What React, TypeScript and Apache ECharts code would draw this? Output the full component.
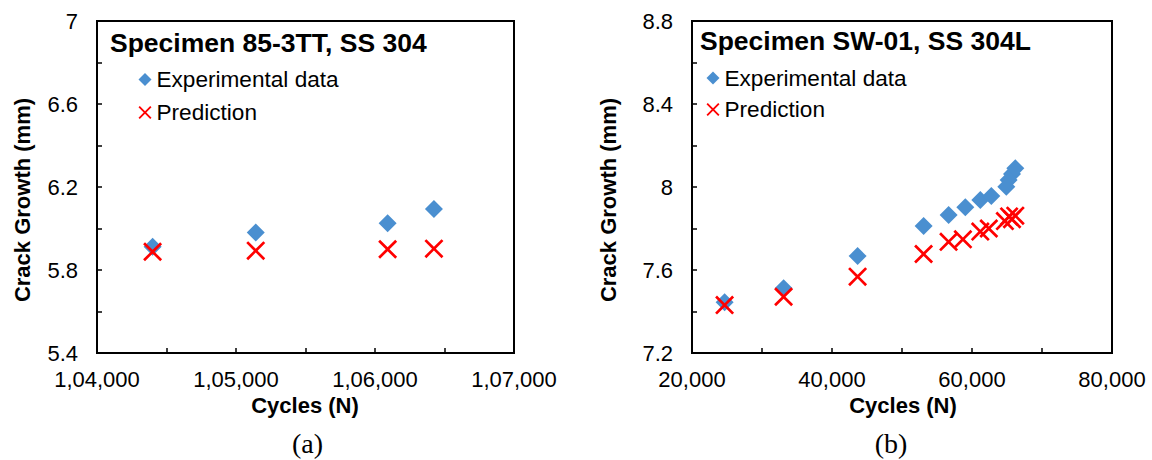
import React, { useEffect, useRef } from "react";
import * as echarts from "echarts";

// ---- Data (a): Specimen 85-3TT, SS 304 ----
const aCycles = [104400, 105142, 106091, 106424];
const aExperimental = [5.912, 5.981, 6.025, 6.094];
const aPrediction = [5.888, 5.893, 5.9, 5.903];
const aXTickLabels = ["1,04,000", "1,05,000", "1,06,000", "1,07,000"];
const aYTickLabels = ["5.4", "5.8", "6.2", "6.6", "7"];

// ---- Data (b): Specimen SW-01, SS 304L ----
const bExpCycles = [24657, 33086, 43657, 53086, 56657, 59043, 61186, 62757, 64900, 65229, 65714, 66186];
const bExperimental = [7.444, 7.512, 7.667, 7.812, 7.865, 7.902, 7.937, 7.957, 8.001, 8.034, 8.063, 8.09];
const bPredCycles = [24657, 33086, 43657, 53086, 56657, 58700, 61186, 62400, 64700, 65300, 65714, 66186];
const bPrediction = [7.431, 7.471, 7.568, 7.677, 7.736, 7.748, 7.785, 7.8, 7.836, 7.858, 7.845, 7.862];
const bXTickLabels = ["20,000", "40,000", "60,000", "80,000"];
const bYTickLabels = ["7.2", "7.6", "8", "8.4", "8.8"];

const titles = ["Specimen 85-3TT, SS 304", "Specimen SW-01, SS 304L"];
const legendNames = ["Experimental data", "Prediction"];
const xTitle = "Cycles (N)";
const yTitle = "Crack Growth (mm)";
const panelLabels = ["(a)", "(b)"];

const BLUE = "#4A8FD0";
const RED = "#FF0000";
const FONT = "'Liberation Sans', Arial, sans-serif";
const SERIF = "'Liberation Serif', 'Times New Roman', serif";
const CROSS = "path://M0,10L10,0L50,40L90,0L100,10L60,50L100,90L90,100L50,60L10,100L0,90L40,50Z";

function xAxisCfg(gridIndex: number, min: number, max: number, interval: number, labels: string[]) {
  return {
    type: "value",
    gridIndex,
    min,
    max,
    interval,
    splitLine: { show: false },
    axisLine: { show: true, lineStyle: { color: "#000", width: 2 } },
    axisTick: { show: true, inside: true, length: 5, lineStyle: { color: "#000", width: 1.5 } },
    minorTick: { show: true, splitNumber: 2, length: 5, lineStyle: { color: "#000", width: 1.5 } },
    axisLabel: {
      color: "#000",
      fontFamily: FONT,
      fontSize: 22,
      margin: 15,
      formatter: (v: number) => labels[Math.round((v - min) / interval)] ?? "",
    },
  };
}

function yAxisCfg(gridIndex: number, min: number, max: number, interval: number, labels: string[]) {
  return {
    type: "value",
    gridIndex,
    min,
    max,
    interval,
    splitLine: { show: false },
    axisLine: { show: true, lineStyle: { color: "#000", width: 2 } },
    axisTick: { show: true, inside: true, length: 5, lineStyle: { color: "#000", width: 1.5 } },
    minorTick: { show: true, splitNumber: 2, length: 5, lineStyle: { color: "#000", width: 1.5 } },
    axisLabel: {
      color: "#000",
      fontFamily: FONT,
      fontSize: 22,
      margin: 19,
      formatter: (v: number) => labels[Math.round((v - min) / interval)] ?? "",
    },
  };
}

function pairs(xs: number[], ys: number[]) {
  return xs.map((x, i) => [x, ys[i]]);
}

export default function App() {
  const ref = useRef<HTMLDivElement>(null);
  useEffect(() => {
    if (!ref.current) return;
    const chart = echarts.init(ref.current, undefined, { renderer: "svg" });
    const legendCfg = (left: number, top: number, gap: number) => ({
      orient: "vertical",
      left,
      top,
      padding: 0,
      itemWidth: 13,
      itemHeight: 13,
      itemGap: gap,
      selectedMode: false,
      textStyle: { fontFamily: FONT, fontSize: 22.6, color: "#000" },
      data: [
        { name: legendNames[0], icon: "diamond", itemStyle: { color: BLUE } },
        { name: legendNames[1], icon: CROSS, itemStyle: { color: RED } },
      ],
    });
    const expSeries = (idx: number, data: number[][]) => ({
      type: "scatter",
      name: legendNames[0],
      xAxisIndex: idx,
      yAxisIndex: idx,
      symbol: "diamond",
      symbolSize: 18,
      itemStyle: { color: BLUE, opacity: 1 },
      data,
      z: 2,
    });
    const predSeries = (idx: number, data: number[][]) => ({
      type: "scatter",
      name: legendNames[1],
      xAxisIndex: idx,
      yAxisIndex: idx,
      symbol: CROSS,
      symbolSize: 19,
      itemStyle: { color: RED, opacity: 1 },
      data,
      z: 3,
    });
    const titleStyle = { fontFamily: FONT, fontSize: 26.5, fontWeight: "bold", color: "#000" };
    chart.setOption({
      animation: false,
      backgroundColor: "#fff",
      title: [
        { text: titles[0], left: 110, top: 29, padding: 0, textStyle: titleStyle },
        { text: titles[1], left: 700, top: 27, padding: 0, textStyle: titleStyle },
      ],
      legend: [legendCfg(138.5, 68, 10), legendCfg(706.5, 66.5, 8.5)],
      grid: [
        { left: 97, top: 21, width: 417, height: 332, show: true, borderColor: "#000", borderWidth: 2 },
        { left: 692, top: 21, width: 420, height: 332, show: true, borderColor: "#000", borderWidth: 2 },
      ],
      xAxis: [
        xAxisCfg(0, 104000, 107000, 1000, aXTickLabels),
        xAxisCfg(1, 20000, 80000, 20000, bXTickLabels),
      ],
      yAxis: [
        yAxisCfg(0, 5.4, 7, 0.4, aYTickLabels),
        yAxisCfg(1, 7.2, 8.8, 0.4, bYTickLabels),
      ],
      series: [
        expSeries(0, pairs(aCycles, aExperimental)),
        predSeries(0, pairs(aCycles, aPrediction)),
        expSeries(1, pairs(bExpCycles, bExperimental)),
        predSeries(1, pairs(bPredCycles, bPrediction)),
      ],
      graphic: [
        { type: "text", x: 22, y: 200, rotation: Math.PI / 2, style: { text: yTitle, font: `bold 22px ${FONT}`, fill: "#000", align: "center", verticalAlign: "middle" } },
        { type: "text", x: 608, y: 200, rotation: Math.PI / 2, style: { text: yTitle, font: `bold 22px ${FONT}`, fill: "#000", align: "center", verticalAlign: "middle" } },
        { type: "text", x: 305, y: 405, style: { text: xTitle, font: `bold 22px ${FONT}`, fill: "#000", align: "center", verticalAlign: "middle" } },
        { type: "text", x: 903, y: 405, style: { text: xTitle, font: `bold 22px ${FONT}`, fill: "#000", align: "center", verticalAlign: "middle" } },
        { type: "text", x: 307.5, y: 443, style: { text: panelLabels[0], font: `28px ${SERIF}`, fill: "#000", align: "center", verticalAlign: "middle" } },
        { type: "text", x: 891, y: 443, style: { text: panelLabels[1], font: `28px ${SERIF}`, fill: "#000", align: "center", verticalAlign: "middle" } },
      ],
    });
    return () => chart.dispose();
  }, []);
  return <div ref={ref} style={{ position: "absolute", left: 0, top: 0, width: 1152, height: 460 }} />;
}
